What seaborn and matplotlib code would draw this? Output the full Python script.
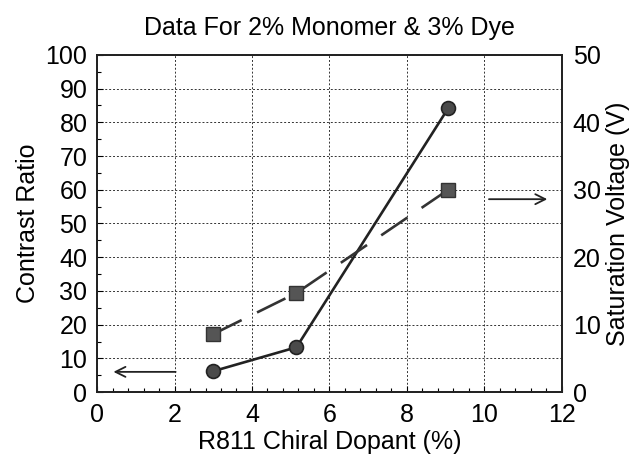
import numpy as np
import pandas as pd
import seaborn as sns
import matplotlib.pyplot as plt
from matplotlib.ticker import MultipleLocator

dopant = [3.0, 5.15, 9.07]
contrast_ratio = [6.2, 13.3, 84.2]
sat_voltage = [8.6, 14.7, 30.0]

title = 'Data For 2% Monomer & 3% Dye'
xlabel = 'R811 Chiral Dopant (%)'
ylabel_left = 'Contrast Ratio'
ylabel_right = 'Saturation Voltage (V)'

sns.set_style('ticks', {'text.color': 'black', 'xtick.color': 'black',
                        'ytick.color': 'black', 'axes.labelcolor': 'black'})
plt.rcParams['font.family'] = ['Liberation Sans', 'DejaVu Sans']

df = pd.DataFrame({'dopant': dopant, 'cr': contrast_ratio, 'vsat': sat_voltage})

fig = plt.figure(figsize=(6.39, 4.57), dpi=100)
ax = fig.add_axes([0.152, 0.142, 0.727, 0.738])
ax2 = ax.twinx()

sns.lineplot(data=df, x='dopant', y='cr', ax=ax, color='#222222', linewidth=1.9,
             marker='o', markersize=10, markerfacecolor='#4a4a4a',
             markeredgecolor='#222222', markeredgewidth=1.2, zorder=5)
sns.lineplot(data=df, x='dopant', y='vsat', ax=ax2, color='#333333', linewidth=1.9,
             linestyle=(0, (12, 6.5)), marker='s', markersize=10.5,
             markerfacecolor='#555555', markeredgecolor='#333333',
             markeredgewidth=1.0, zorder=5)

ax.set_xlim(0, 12)
ax.set_ylim(0, 100)
ax2.set_ylim(0, 50)
ax.xaxis.set_major_locator(MultipleLocator(2))
ax.xaxis.set_minor_locator(MultipleLocator(0.4))
ax.yaxis.set_major_locator(MultipleLocator(10))
ax.yaxis.set_minor_locator(MultipleLocator(5))
ax2.yaxis.set_major_locator(MultipleLocator(10))

ax.grid(True, which='major', color='#333333', linestyle=(0, (2, 2)), linewidth=0.7)
ax.tick_params(which='both', direction='in', labelsize=18, length=4, width=0.8)
ax.tick_params(which='minor', length=3)
ax.tick_params(axis='x', pad=8)
ax.tick_params(axis='y', pad=7)
ax2.tick_params(direction='in', labelsize=18, length=0, width=0.8, pad=8)

ax.set_xlabel(xlabel, fontsize=18, labelpad=2)
ax.set_ylabel(ylabel_left, fontsize=18, labelpad=4)
ax2.set_ylabel(ylabel_right, fontsize=18, labelpad=4)
ax.set_title(title, fontsize=18, pad=14)

for sp in list(ax.spines.values()) + list(ax2.spines.values()):
    sp.set_linewidth(1.3)
    sp.set_color('#222222')

# arrows pointing to each axis
ax.annotate('', xy=(0.35, 6.0), xytext=(2.1, 6.0),
            arrowprops=dict(arrowstyle='->', color='#222222', lw=1.3,
                            mutation_scale=18))
ax.annotate('', xy=(11.7, 57.2), xytext=(10.05, 57.2),
            arrowprops=dict(arrowstyle='->', color='#222222', lw=1.3,
                            mutation_scale=18))

fig.savefig('out.png', dpi=100)
